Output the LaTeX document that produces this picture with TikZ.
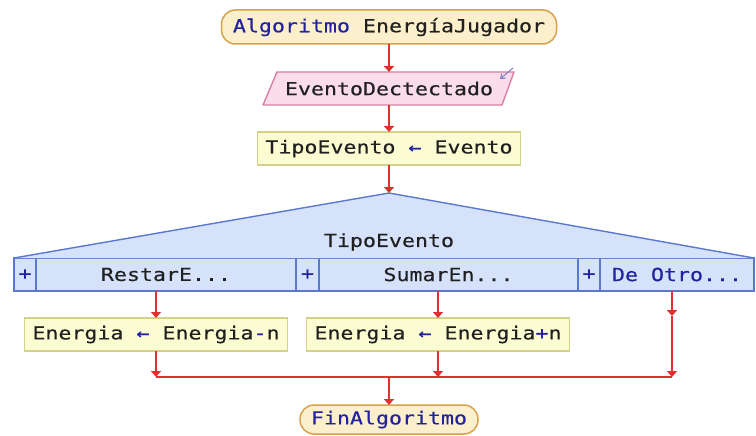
\documentclass[tikz,border=0pt]{standalone}
\usepackage{fontspec}
\setmonofont[FakeStretch=1.2,FakeBold=0.4]{DejaVu Sans Mono}
\usetikzlibrary{arrows.meta,calc}
\definecolor{termfill}{HTML}{FCEFCB}
\definecolor{termdraw}{HTML}{D6A24E}
\definecolor{iofill}{HTML}{FADCEA}
\definecolor{iodraw}{HTML}{D77FA5}
\definecolor{asgfill}{HTML}{FCFCD2}
\definecolor{asgdraw}{HTML}{D2D288}
\definecolor{swfill}{HTML}{D6E2FA}
\definecolor{swdraw}{HTML}{5A78D0}
\definecolor{flow}{HTML}{E03030}
\definecolor{kw}{HTML}{22229E}
\definecolor{txt}{HTML}{202020}
\tikzset{
  base/.style={inner sep=0pt, outer sep=0pt, font=\ttfamily\fontsize{18}{20}\selectfont, text=txt},
  term/.style={base, draw=termdraw, fill=termfill, line width=1.5pt, rounded corners=14pt},
  asg/.style={base, draw=asgdraw, fill=asgfill, line width=1.4pt},
  cell/.style={base, draw=swdraw, fill=swfill, line width=1.4pt, minimum height=33pt},
  plus/.style={cell, text=kw},
  lbl/.style={base},
  flowline/.style={draw=flow, line width=1.8pt},
  arr/.style={flowline, -{Triangle[width=10pt,length=6pt]}},
}
\begin{document}
\begin{tikzpicture}[x=1pt,y=-1pt]
\useasboundingbox (0,0) rectangle (756,436);
% start
\node[term, minimum width=335pt, minimum height=34pt] (start) at (389,27) {\textcolor{kw}{Algoritmo} EnergíaJugador};
% input
\node[base, minimum width=238pt, minimum height=33pt] (io) at (389,88.5) {EventoDectectado};
\fill[iofill] ($(io.south west)+(-7,0)$) -- ($(io.north west)+(7,0)$) -- ($(io.north east)+(6,0)$) -- ($(io.south east)+(-6,0)$) -- cycle;
\draw[iodraw, line width=1.4pt, line join=round] ($(io.south west)+(-7,0)$) -- ($(io.north west)+(7,0)$) -- ($(io.north east)+(6,0)$) -- ($(io.south east)+(-6,0)$) -- cycle;
\node[base] at (io) {EventoDectectado};
\draw[kw!60, line width=1pt, -{Straight Barb[length=4pt,width=6pt]}] ($(io.north east)+(5,-4)$) -- ($(io.north east)+(-8,7)$);
% assign
\node[asg, minimum width=263pt, minimum height=33pt] (a0) at (389,148.5) {TipoEvento \textcolor{kw}{←} Evento};
% switch
\coordinate (apex) at (389,193);
\node[plus, minimum width=22pt] (p1) at (25,274.5) {+};
\node[cell, minimum width=260pt] (c1) at (166,274.5) {RestarE...};
\node[plus, minimum width=23pt] (p2) at (307.5,274.5) {+};
\node[cell, minimum width=259pt] (c2) at (448.5,274.5) {SumarEn...};
\node[plus, minimum width=22pt] (p3) at (589,274.5) {+};
\node[cell, minimum width=154pt, text=kw] (c3) at (677,274.5) {De Otro...};
\fill[swfill] (p1.north west) -- (apex) -- (c3.north east) -- cycle;
\draw[swdraw, line width=1.4pt, line join=round] (p1.north west) -- (apex) -- (c3.north east);
\node[lbl] (sel) at (389,242) {TipoEvento};
% assignments
\node[asg, minimum width=263pt, minimum height=33pt] (a1) at (156,334.5) {Energia \textcolor{kw}{←} Energia\textcolor{kw}{-}n};
\node[asg, minimum width=263pt, minimum height=33pt] (a2) at (438,334.5) {Energia \textcolor{kw}{←} Energia\textcolor{kw}{+}n};
% end
\node[term, minimum width=178pt, minimum height=29pt] (fin) at (389,419.5) {\textcolor{kw}{FinAlgoritmo}};
% join coordinates
\coordinate (j1) at (156,377);
\coordinate (j2) at (438,377);
\coordinate (j3) at (672,377);
\coordinate (jm) at (389,377);
\coordinate (b3) at (672,291);
\coordinate (m3) at (672,316);
% connectors
\draw[arr] (start.south) -- (start.south |- io.north);
\draw[arr] (start.south |- io.south) -- (a0.north);
\draw[arr] (a0.south) -- (apex);
\draw[arr] (a1.north |- c1.south) -- (a1.north);
\draw[arr] (a2.north |- c2.south) -- (a2.north);
\draw[flowline] (j1) -- (j3);
\draw[arr] (b3) -- (m3);
\draw[arr] (m3) -- (j3);
\draw[arr] (a1.south) -- (j1);
\draw[arr] (a2.south) -- (j2);
\draw[arr] (jm) -- (fin.north);
\end{tikzpicture}
\end{document}
